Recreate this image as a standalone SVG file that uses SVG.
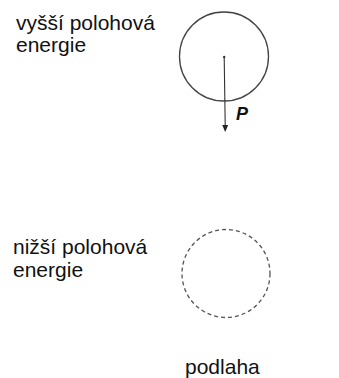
<svg xmlns="http://www.w3.org/2000/svg" width="339" height="378" viewBox="0 0 339 378">
<style>
.lbl{font-family:"Liberation Sans",Arial,sans-serif;font-size:21px;fill:#111}
.ball{fill:none;stroke:#444;stroke-width:1.3}
.ghost{fill:none;stroke:#555;stroke-width:1.3;stroke-dasharray:4 3}
</style>
<defs>
<marker id="ah" markerWidth="6" markerHeight="7" refX="3" refY="7" orient="auto-start-reverse" markerUnits="userSpaceOnUse" viewBox="0 0 6 7">
<path d="M0,0 L6,0 L3,7 Z" fill="#222"/>
</marker>
</defs>
<rect width="339" height="378" fill="#fff"/>
<g id="label-high">
<text class="lbl" x="16" y="30">vyšší polohová</text>
<text class="lbl" x="16" y="52">energie</text>
</g>
<g id="ball-high">
<circle class="ball" cx="224" cy="56.5" r="44.5"/>
<circle cx="224.2" cy="57" r="1.2" fill="#333"/>
</g>
<g id="connectors">
<line x1="224.2" y1="57" x2="225.2" y2="125" stroke="#333" stroke-width="1.1"/>
<path d="M222.2,125 L228.2,125 L225.2,132 Z" fill="#222"/>
</g>
<g id="force-label">
<text x="236" y="120" font-family="Liberation Sans,Arial,sans-serif" font-size="18" font-weight="bold" font-style="italic" fill="#111">P</text>
</g>
<g id="label-low">
<text class="lbl" x="13" y="254">nižší polohová</text>
<text class="lbl" x="13" y="277">energie</text>
</g>
<g id="ball-low">
<circle class="ghost" cx="226" cy="273.5" r="44"/>
</g>
<g id="label-floor">
<text class="lbl" x="185" y="374">podlaha</text>
</g>
</svg>
